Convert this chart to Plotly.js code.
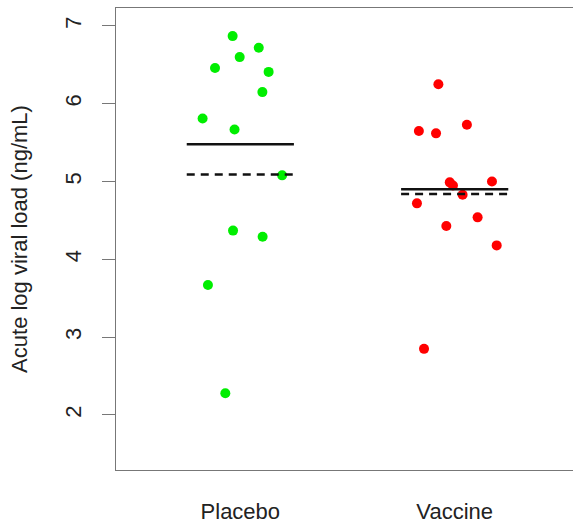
<!DOCTYPE html>
<html>
<head>
<meta charset="utf-8">
<script src="https://cdn.plot.ly/plotly-3.0.1.min.js"></script>
<style>html,body{margin:0;padding:0;background:#fff;}#chart{width:573px;height:523px;}</style>
</head>
<body>
<div id="chart"></div>
<script>
// Category labels and positions
var groups = ["Placebo", "Vaccine"];
var groupPos = [1, 2];

// Placebo values (log viral load) and horizontal jitter offsets
var placeboValues = [6.87, 6.72, 6.60, 6.46, 6.41, 6.15, 5.81, 5.67, 5.08, 4.37, 4.29, 3.67, 2.28];
var placeboJitter = [-0.036, 0.086, -0.003, -0.118, 0.132, 0.103, -0.176, -0.027, 0.195, -0.034, 0.104, -0.151, -0.070];

// Vaccine values and jitter offsets
var vaccineValues = [6.25, 5.65, 5.62, 5.73, 4.99, 4.95, 5.00, 4.83, 4.72, 4.54, 4.43, 4.18, 2.85];
var vaccineJitter = [-0.076, -0.167, -0.087, 0.057, -0.023, -0.008, 0.174, 0.037, -0.176, 0.107, -0.039, 0.196, -0.143];

// Summary lines per group (solid and dashed)
var solidLine = [5.48, 4.90];
var dashedLine = [5.09, 4.84];

var yTicks = [2, 3, 4, 5, 6, 7];

function jittered(pos, offs) { return offs.map(function (o) { return pos + o; }); }

var halfW = 0.25;
var traces = [
  {
    x: jittered(groupPos[0], placeboJitter), y: placeboValues,
    type: "scatter", mode: "markers",
    marker: { color: "#00ee00", size: 10 }, showlegend: false, hoverinfo: "y"
  },
  {
    x: jittered(groupPos[1], vaccineJitter), y: vaccineValues,
    type: "scatter", mode: "markers",
    marker: { color: "#ff0000", size: 10 }, showlegend: false, hoverinfo: "y"
  }
];
groupPos.forEach(function (p, i) {
  traces.push({
    x: [p - halfW, p + halfW], y: [solidLine[i], solidLine[i]],
    type: "scatter", mode: "lines", line: { color: "#111", width: 2.5 },
    showlegend: false, hoverinfo: "skip"
  });
  traces.push({
    x: [p - halfW, p + halfW], y: [dashedLine[i], dashedLine[i]],
    type: "scatter", mode: "lines", line: { color: "#111", width: 2.5, dash: "8px,6px" },
    showlegend: false, hoverinfo: "skip"
  });
});

var font = { family: "Liberation Sans, Arial, Helvetica, sans-serif", size: 22, color: "#222" };
var layout = {
  width: 573, height: 523,
  margin: { l: 116, r: 0, t: 8, b: 53 },
  paper_bgcolor: "#fff", plot_bgcolor: "#fff",
  font: font,
  xaxis: {
    range: [0.42, 2.552], tickvals: groupPos, ticktext: groups,
    showgrid: false, zeroline: false, ticks: "",
    showline: true, mirror: true, linecolor: "#777", linewidth: 1,
    ticklabelstandoff: 22, tickfont: font
  },
  yaxis: {
    range: [1.293, 7.231], tickvals: yTicks,
    showgrid: false, zeroline: false,
    ticks: "outside", ticklen: 13, tickcolor: "#777", tickwidth: 1,
    showline: true, linecolor: "#777", linewidth: 1,
    tickangle: -90, ticklabelstandoff: 12, tickfont: font,
    title: { text: "Acute log viral load (ng/mL)", font: font, standoff: 27 }
  }
};
Plotly.newPlot("chart", traces, layout, { staticPlot: true });
</script>
</body>
</html>
